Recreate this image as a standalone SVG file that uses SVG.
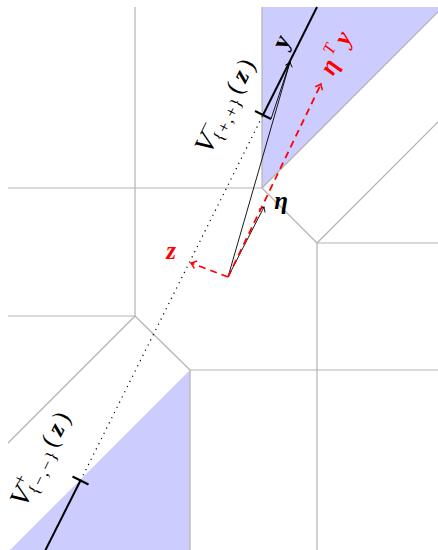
<svg xmlns="http://www.w3.org/2000/svg" width="438" height="550" viewBox="0 0 438 550">
<style>
.grid{stroke:#b3b3b3;stroke-width:1.2;fill:none}
.region{fill:#ccccff;stroke:none}
.thick{stroke:#000;stroke-width:2;fill:none}
.thin{stroke:#000;stroke-width:0.9;fill:none}
.dot{stroke:#000;stroke-width:1.2;stroke-dasharray:1.2 4.6;fill:none}
.red{stroke:#ff0000;stroke-width:1.8;stroke-dasharray:7 5;fill:none}
text{font-family:"Liberation Serif","DejaVu Serif",serif;fill:#000}
.m{font-size:25px}
.v{font-size:28px;font-style:italic}
.s{font-size:17px}
.bi{font-weight:bold;font-style:italic}
.rt{fill:#ff0000}
</style>
<defs>
<marker id="ak" markerUnits="userSpaceOnUse" markerWidth="10" markerHeight="10" refX="0" refY="0" orient="auto" overflow="visible">
<path d="M-4.5,-3.6 Q-1.6,-1 0,0 Q-1.6,1 -4.5,3.6" fill="none" stroke="#000" stroke-width="0.9"/>
</marker>
<marker id="ar" markerUnits="userSpaceOnUse" markerWidth="10" markerHeight="10" refX="0" refY="0" orient="auto" overflow="visible">
<path d="M-5,-4 Q-1.8,-1.1 0,0 Q-1.8,1.1 -5,4" fill="none" stroke="#ff0000" stroke-width="1.5"/>
</marker>
</defs>

<g id="regions">
<polygon class="region" points="262,7 438,7 438,12 262,188"/>
<polygon class="region" points="190,370 190,550 10,550"/>
</g>

<g id="grid">
<line class="grid" x1="135" y1="7" x2="135" y2="316"/>
<line class="grid" x1="8" y1="188" x2="262" y2="188"/>
<line class="grid" x1="262" y1="7" x2="262" y2="188"/>
<line class="grid" x1="262" y1="188" x2="438" y2="12"/>
<line class="grid" x1="262" y1="188" x2="317" y2="243"/>
<line class="grid" x1="317" y1="243" x2="438" y2="243"/>
<line class="grid" x1="317" y1="243" x2="438" y2="122"/>
<line class="grid" x1="317" y1="243" x2="317" y2="550"/>
<line class="grid" x1="8" y1="316" x2="135" y2="316"/>
<line class="grid" x1="135" y1="316" x2="190" y2="370"/>
<line class="grid" x1="135" y1="316" x2="8" y2="443"/>
<line class="grid" x1="190" y1="370" x2="438" y2="370"/>
<line class="grid" x1="190" y1="370" x2="190" y2="550"/>
</g>

<g id="connectors">
<line class="dot" x1="80.5" y1="480.5" x2="263" y2="115"/>
<line class="thick" x1="263" y1="115" x2="317" y2="7"/>
<line class="thick" x1="80.5" y1="480.5" x2="45" y2="551"/>
<line class="thick" x1="255" y1="111" x2="271" y2="119"/>
<line class="thick" x1="72.5" y1="476.5" x2="88.5" y2="484.5"/>
<line class="thin" x1="271" y1="119" x2="290" y2="62"/>
<line class="thin" x1="228" y1="277" x2="290" y2="62" marker-end="url(#ak)"/>
<line class="thin" x1="228" y1="277" x2="264" y2="207" marker-end="url(#ak)"/>
<line class="red" x1="228" y1="277" x2="321" y2="84" marker-end="url(#ar)"/>
<line class="red" x1="228" y1="277" x2="191" y2="263" marker-end="url(#ar)"/>
</g>

<g id="label-y" transform="translate(290,62) rotate(-63.43)">
<text class="m" x="14" y="-9" text-anchor="middle" font-weight="bold">y</text>
</g>

<g id="label-eta">
<text class="m bi" x="281" y="209" text-anchor="middle">η</text>
</g>

<g id="label-z">
<text class="m bi rt" x="171" y="258.5" text-anchor="middle">z</text>
</g>

<g id="label-etaTy" transform="translate(321,84) rotate(-63.43)">
<text class="m bi rt" x="19" y="7.5" text-anchor="middle">η</text>
<text class="s rt" x="35" y="-2.5" text-anchor="middle" font-style="italic">T</text>
<text class="m bi rt" x="51" y="7" text-anchor="middle">y</text>
</g>

<g id="label-V-minus" transform="translate(263,115) rotate(-63.43)">
<text class="v" x="-51" y="-29.5" text-anchor="middle">V</text>
<text class="s" x="-36" y="-42" text-anchor="middle">−</text>
<text class="s" x="-43" y="-24" textLength="46" lengthAdjust="spacing">{+,+}</text>
<text class="m" x="7" y="-29.5">(</text>
<text class="m bi" x="25" y="-29.5" text-anchor="middle">z</text>
<text class="m" x="34" y="-29.5">)</text>
</g>

<g id="label-V-plus" transform="translate(80.5,480.5) rotate(-63.43)">
<text class="v" x="-41" y="-37" text-anchor="middle">V</text>
<text class="s" x="-26" y="-49" text-anchor="middle">+</text>
<text class="s" x="-33" y="-31.5" textLength="46" lengthAdjust="spacing">{−,−}</text>
<text class="m" x="17" y="-37">(</text>
<text class="m bi" x="35" y="-37" text-anchor="middle">z</text>
<text class="m" x="44" y="-37">)</text>
</g>
</svg>
